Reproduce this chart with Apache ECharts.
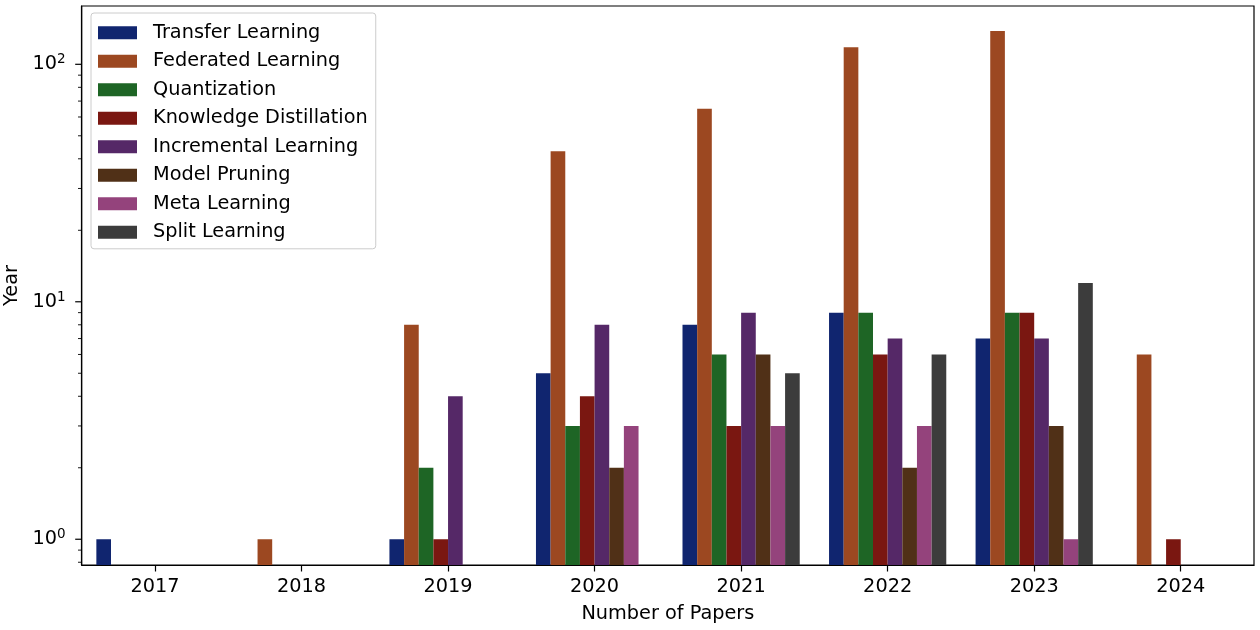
<!DOCTYPE html>
<html><head><meta charset="utf-8">
<script src="https://cdn.jsdelivr.net/npm/echarts@6/dist/echarts.min.js"></script>
<style>html,body{margin:0;padding:0;background:#fff}#c{width:1260px;height:630px}</style>
</head><body><div id="c"></div>
<script>
const years = ['2017','2018','2019','2020','2021','2022','2023','2024'];
const seriesNames = ['Transfer Learning','Federated Learning','Quantization','Knowledge Distillation','Incremental Learning','Model Pruning','Meta Learning','Split Learning'];
const transfer     = [1, null, 1, 5, 8, 9, 7, null];
const federated    = [null, 1, 8, 43, 65, 118, 138, 6];
const quantization = [null, null, 2, 3, 6, 9, 9, null];
const distillation = [null, null, 1, 4, 3, 6, 9, 1];
const incremental  = [null, null, 4, 8, 9, 7, 7, null];
const pruning      = [null, null, null, 2, 6, 2, 3, null];
const metaLearning = [null, null, null, 3, 3, 3, 1, null];
const splitLearning= [null, null, null, null, 5, 6, 12, null];
const yMajorTicks = [1, 10, 100];
const yMinorTicks = [0.8, 0.9, 2, 3, 4, 5, 6, 7, 8, 9, 20, 30, 40, 50, 60, 70, 80, 90];
const yMin = 0.779, yMax = 176;

const colors = ['#10256f','#9c4821','#1e6525','#7a1711','#552867','#503017','#94437c','#3c3c3c'];
const allData = [transfer, federated, quantization, distillation, incremental, pruning, metaLearning, splitLearning];
const FONT = 'DejaVu Sans';
const FS = 19.3;

const barSeries = seriesNames.map((n, i) => ({
  name: n, type: 'bar', data: allData[i],
  barGap: '0%', barCategoryGap: '20%',
  itemStyle: { color: colors[i] },
  z: 2
}));

const tickData = yMajorTicks.map(v => [0, v, 1]).concat(yMinorTicks.map(v => [0, v, 0]));
const tickSeries = {
  type: 'custom', silent: true, z: 10, clip: false,
  data: tickData, encode: { x: 0, y: 1 },
  renderItem(params, api) {
    const v = api.value(1);
    const major = api.value(2);
    const y = api.coord([0, v])[1];
    const x0 = params.coordSys.x;
    const len = major ? 6.5 : 3.7;
    return { type: 'line', shape: { x1: x0 - len, y1: y, x2: x0, y2: y },
      style: { stroke: '#000', lineWidth: major ? 1.2 : 0.9 } };
  }
};

const chart = echarts.init(document.getElementById('c'));
chart.setOption({
  animation: false,
  backgroundColor: '#fff',
  textStyle: { fontFamily: FONT },
  grid: { left: 81.7, right: 6, top: 6, bottom: 65, containLabel: false, outerBoundsMode: 'none',
    show: true, borderColor: '#000', borderWidth: 1.2, backgroundColor: 'transparent' },
  legend: {
    data: seriesNames, orient: 'vertical', left: 91, top: 13,
    itemWidth: 39, itemHeight: 13, itemGap: 9.2, icon: 'rect',
    padding: [10, 8, 7, 7],
    backgroundColor: 'rgba(255,255,255,0.8)', borderColor: '#cccccc', borderWidth: 1, borderRadius: 3,
    itemStyle: { borderWidth: 0 },
    textStyle: { fontSize: FS, color: '#000', fontFamily: FONT, lineHeight: 19.3, padding: [0, 0, 0, 11] }
  },
  xAxis: {
    type: 'category', data: years,
    name: 'Number of Papers', nameLocation: 'middle', nameGap: 39,
    nameTextStyle: { fontSize: FS, color: '#000', fontFamily: FONT },
    axisLine: { show: true, lineStyle: { color: '#000', width: 1.2 } },
    axisTick: { show: true, alignWithLabel: true, length: 6.5, lineStyle: { color: '#000', width: 1.2 } },
    axisLabel: { fontSize: FS, color: '#000', fontFamily: FONT, margin: 12 },
    splitLine: { show: false }
  },
  yAxis: {
    type: 'log', logBase: 10, min: yMin, max: yMax, startValue: yMin,
    name: 'Year', nameLocation: 'middle', nameGap: 56,
    nameTextStyle: { fontSize: FS, color: '#000', fontFamily: FONT },
    axisLine: { show: true, lineStyle: { color: '#000', width: 1.2 } },
    axisTick: { show: false },
    splitLine: { show: false },
    axisLabel: {
      margin: 16, showMinLabel: false, showMaxLabel: false,
      formatter: function (v) {
        const e = Math.log10(v);
        if (Math.abs(e - Math.round(e)) > 1e-6) return '';
        return '{b|10}{s|' + Math.round(e) + '}';
      },
      rich: {
        b: { fontSize: FS, color: '#000', fontFamily: FONT, lineHeight: 23, verticalAlign: 'middle' },
        s: { fontSize: 13.5, color: '#000', fontFamily: FONT, lineHeight: 13, verticalAlign: 'top' }
      }
    }
  },
  series: barSeries.concat([tickSeries])
});
</script>
</body></html>
